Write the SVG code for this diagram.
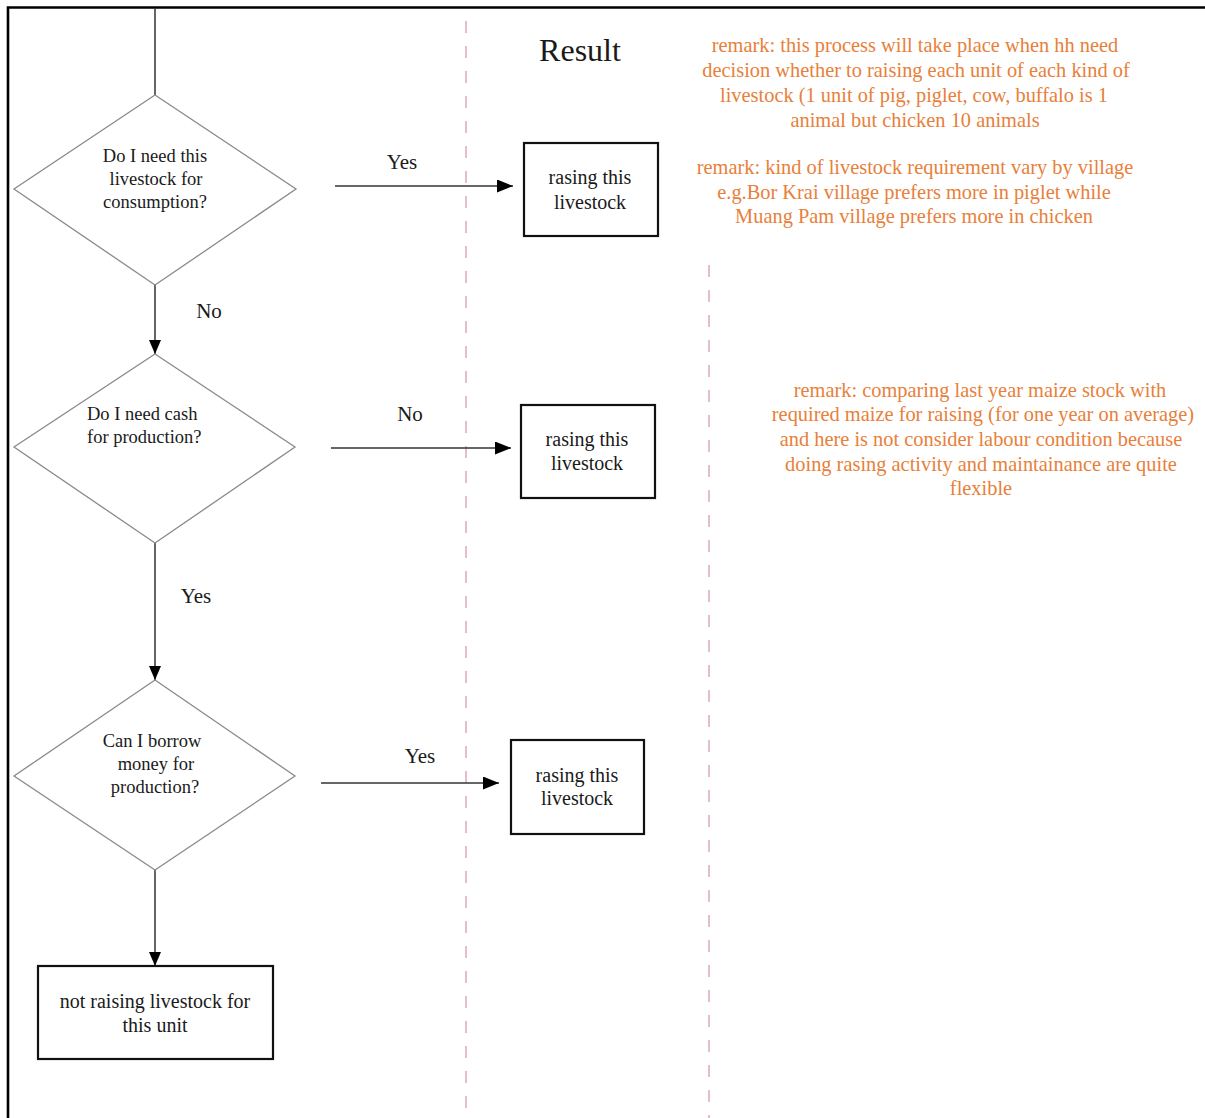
<svg xmlns="http://www.w3.org/2000/svg" width="1205" height="1118" viewBox="0 0 1205 1118">
  <defs>
    <marker id="arrowDown" markerUnits="userSpaceOnUse" markerWidth="12" markerHeight="15" refX="6" refY="14" orient="0">
      <path d="M0,0 L12,0 L6,14 z" fill="#000"/>
    </marker>
    <marker id="arrowRight" markerUnits="userSpaceOnUse" markerWidth="17" markerHeight="13" refX="16" refY="6.5" orient="0">
      <path d="M0,0 L16,6.5 L0,13 z" fill="#000"/>
    </marker>
  </defs>
  <style>
    text { font-family: "Liberation Serif", "Times New Roman", serif; fill: #1a1a1a; }
    .q { font-size: 18.5px; text-anchor: middle; }
    .ql { font-size: 18.5px; }
    .box-t { font-size: 20px; text-anchor: middle; }
    .lbl { font-size: 21px; text-anchor: middle; }
    .remark { font-size: 20.4px; text-anchor: middle; fill: #e8803a; }
    .title { font-size: 32px; text-anchor: middle; }
    .diamond { fill: #fff; stroke: #8a8a8a; stroke-width: 1.3; }
    .box { fill: #fff; stroke: #111; stroke-width: 2.2; }
    .conn { stroke: #333; stroke-width: 1.5; fill: none; }
    .lane { stroke: #d9a3b3; stroke-width: 1.4; stroke-dasharray: 12 13; fill: none; }
    .frame { stroke: #000; stroke-width: 2.6; fill: none; }
  </style>

  <rect width="1205" height="1118" fill="#fff"/>

  <!-- outer frame (top and left edges) -->
  <path class="frame" d="M8,1118 L8,7.5 L1205,7.5"/>

  <!-- lane separators -->
  <line class="lane" x1="466" y1="21" x2="466" y2="1118"/>
  <line class="lane" x1="709" y1="265" x2="709" y2="1118"/>

  <text class="title" x="580" y="61">Result</text>

  <!-- connectors -->
  <g id="connectors">
    <line class="conn" x1="155" y1="8" x2="155" y2="95"/>
    <line class="conn" x1="155" y1="285" x2="155" y2="354" marker-end="url(#arrowDown)"/>
    <line class="conn" x1="155" y1="543" x2="155" y2="680" marker-end="url(#arrowDown)"/>
    <line class="conn" x1="155" y1="870" x2="155" y2="966" marker-end="url(#arrowDown)"/>
    <line class="conn" x1="335" y1="186" x2="513" y2="186" marker-end="url(#arrowRight)"/>
    <line class="conn" x1="331" y1="448" x2="511" y2="448" marker-end="url(#arrowRight)"/>
    <line class="conn" x1="321" y1="783" x2="499" y2="783" marker-end="url(#arrowRight)"/>
    <text class="lbl" x="402" y="169">Yes</text>
    <text class="lbl" x="209" y="318">No</text>
    <text class="lbl" x="410" y="421">No</text>
    <text class="lbl" x="196" y="603">Yes</text>
    <text class="lbl" x="420" y="763">Yes</text>
  </g>

  <!-- decision nodes -->
  <g id="q-consumption">
    <polygon class="diamond" points="155,95 296,189 155,285 14,189"/>
    <text class="q" x="155" y="162">Do I need this</text>
    <text class="q" x="156" y="185">livestock for</text>
    <text class="q" x="155" y="208">consumption?</text>
  </g>
  <g id="q-cash">
    <polygon class="diamond" points="155,354 295,447 155,543 14,447"/>
    <text class="ql" x="87" y="420">Do I need cash</text>
    <text class="ql" x="87" y="443">for production?</text>
  </g>
  <g id="q-borrow">
    <polygon class="diamond" points="155,680 295,776 155,870 14,776"/>
    <text class="q" x="152" y="747">Can I borrow</text>
    <text class="q" x="156" y="770">money for</text>
    <text class="q" x="155" y="793">production?</text>
  </g>

  <!-- result nodes -->
  <g id="r-raise-1">
    <rect class="box" x="524" y="143" width="134" height="93"/>
    <text class="box-t" x="590" y="184">rasing this</text>
    <text class="box-t" x="590" y="209">livestock</text>
  </g>
  <g id="r-raise-2">
    <rect class="box" x="521" y="405" width="134" height="93"/>
    <text class="box-t" x="587" y="446">rasing this</text>
    <text class="box-t" x="587" y="470">livestock</text>
  </g>
  <g id="r-raise-3">
    <rect class="box" x="511" y="740" width="133" height="94"/>
    <text class="box-t" x="577" y="782">rasing this</text>
    <text class="box-t" x="577" y="805">livestock</text>
  </g>
  <g id="r-not-raise">
    <rect class="box" x="38" y="966" width="235" height="93"/>
    <text class="box-t" x="155" y="1008">not raising livestock for</text>
    <text class="box-t" x="155" y="1032">this unit</text>
  </g>

  <!-- remarks -->
  <g id="remark-unit">
    <text class="remark" x="915" y="52">remark: this process will take place when hh need</text>
    <text class="remark" x="916" y="77">decision whether to raising each unit of each kind of</text>
    <text class="remark" x="914" y="102">livestock (1 unit of pig, piglet, cow, buffalo is 1</text>
    <text class="remark" x="915" y="127">animal but chicken 10 animals</text>
  </g>
  <g id="remark-village">
    <text class="remark" x="915" y="174">remark: kind of livestock requirement vary by village</text>
    <text class="remark" x="914" y="199">e.g.Bor Krai village prefers more in piglet while</text>
    <text class="remark" x="914" y="223">Muang Pam village prefers more in chicken</text>
  </g>
  <g id="remark-maize">
    <text class="remark" x="980" y="397">remark: comparing last year maize stock with</text>
    <text class="remark" x="983" y="421">required maize for raising (for one year on average)</text>
    <text class="remark" x="981" y="446">and here is not consider labour condition because</text>
    <text class="remark" x="981" y="471">doing rasing activity and maintainance are quite</text>
    <text class="remark" x="981" y="495">flexible</text>
  </g>
</svg>
